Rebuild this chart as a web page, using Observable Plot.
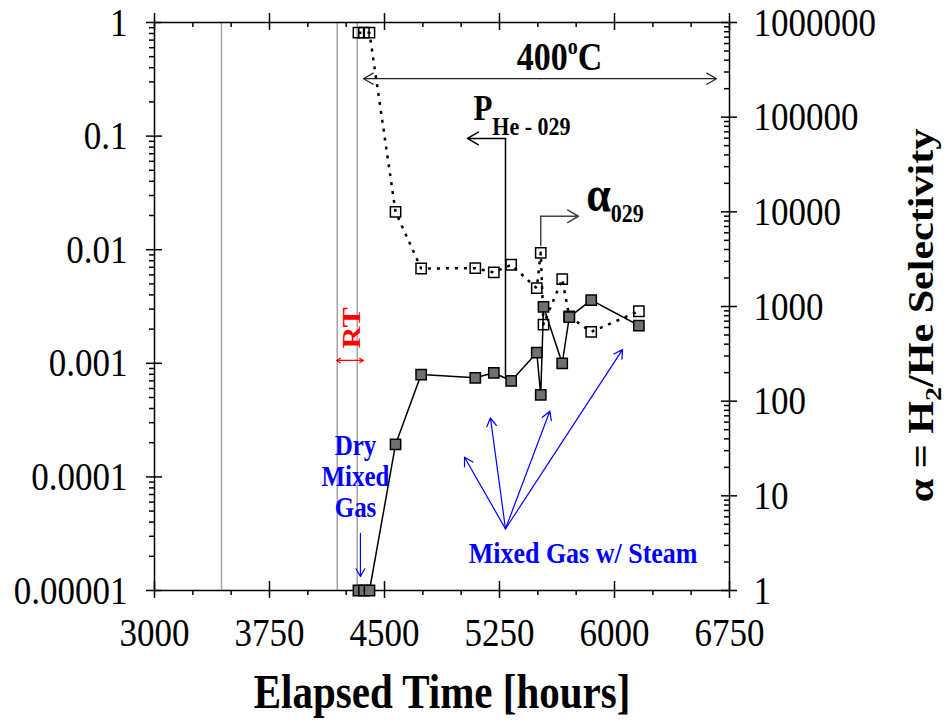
<!DOCTYPE html>
<html>
<head>
<meta charset="utf-8">
<script src="https://cdn.jsdelivr.net/npm/d3@7"></script>
<script src="https://cdn.jsdelivr.net/npm/@observablehq/plot@0.6"></script>
<style>
  html, body { margin: 0; padding: 0; background: #fff; }
  #chart { width: 948px; height: 723px; overflow: hidden; }
</style>
</head>
<body>
<div id="chart"></div>
<script>
// ---------- data ----------
const elapsedHours = [4330, 4366, 4402, 4572, 4739, 5092, 5213, 5326, 5493, 5519, 5537, 5659, 5705, 5848, 6159];
const pHe029 = [1e-5, 1e-5, 1e-5, 1.93e-4, 7.96e-4, 7.45e-4, 8.25e-4, 7.0e-4, 1.24e-3, 5.28e-4, 3.14e-3, 1.0e-3, 2.55e-3, 3.6e-3, 2.15e-3];
const alpha029 = [7.8e5, 7.8e5, 7.8e5, 1.0e4, 2520, 2540, 2290, 2760, 1560, 3690, 645, 1950, 784, 540, 891];

const transitionHours = [3437, 4192, 4322];

const xTicks = [3000, 3750, 4500, 5250, 6000, 6750];
const xTickLabels = ["3000", "3750", "4500", "5250", "6000", "6750"];
const xMinorTicks = [3250, 3500, 4000, 4250, 4750, 5000, 5500, 5750, 6250, 6500];
const leftTicks = [1e-5, 1e-4, 1e-3, 1e-2, 1e-1, 1];
const leftTickLabels = ["0.00001", "0.0001", "0.001", "0.01", "0.1", "1"];
const rightTicks = [1, 10, 100, 1000, 10000, 100000, 1000000];
const rightTickLabels = ["1", "10", "100", "1000", "10000", "100000", "1000000"];

// annotation anchors (data units)
const tempSpanHours = [4363, 6665];
const tempSpanLevel = [0.32];
const tempLabel = [{x: 5641, y: 0.378, text: "400°C"}];
const pBracket = [{x: 5289, y: 7.35e-4}, {x: 5289, y: 0.0953}];
const pArrowEnd = [{x: 5041, y: 0.0953}];
const pLabel = [{x: 5080, y: 0.1372, text: "PHe - 029"}];
const aBracket = [{x: 5519, y: 0.0109}, {x: 5519, y: 0.0197}];
const aArrowEnd = [{x: 5765, y: 0.0197}];
const aLabel = [{x: 5815, y: 0.02213, text: "α029"}];
const rtSpanHours = [4187, 4363];
const rtLevel = [1.06e-3];
const rtLabel = [{x: 4285, y: 2.05e-3, text: "RT"}];
const dryLabel = [{x: 4311, y: 1.01e-4, text: "Dry\nMixed\nGas"}];
const dryArrow = [{x1: 4343, y1: 3.18e-5, x2: 4343, y2: 1.33e-5}];
const steamLabel = [{x: 5795, y: 1.73e-5, text: "Mixed Gas w/ Steam"}];
const steamOrigin = {x: 5289, y: 3.49e-5};
const steamTargetsX = [5022, 5191, 5578, 6052];
const steamTargetsY = [1.49e-4, 3.31e-4, 3.79e-4, 1.32e-3];

// ---------- layout ----------
const W = 948, H = 723, ML = 154, MR = 219, MT = 22, MB = 133;
const PW = W - ML - MR, PH = H - MT - MB;
const serif = "'Liberation Serif', 'Times New Roman', serif";
const K = 1.17; // vertical stretch of glyphs in the reference

// alpha (right axis, 1..1e6) -> left log axis (1e-5..1)
const alphaToY = (a) => 1e-5 * Math.pow(a, 5 / 6);

const pts = elapsedHours.map((t, i) => ({t, p: pHe029[i], a: alpha029[i]}));

const leftMinor = [];
for (let e = -5; e < 0; e++) for (let m = 2; m <= 9; m++) leftMinor.push(m * Math.pow(10, e));
const rightMinor = [];
for (let e = 0; e < 6; e++) for (let m = 2; m <= 9; m++) rightMinor.push(alphaToY(m * Math.pow(10, e)));
const rightMajorPos = rightTicks.map((d) => alphaToY(d));

const tk = {stroke: "black", strokeWidth: 1.5};
const tempMid = (tempSpanHours[0] + tempSpanHours[1]) / 2;
const rtMid = (rtSpanHours[0] + rtSpanHours[1]) / 2;
const steamArrows = steamTargetsX.map((x, i) => ({x1: steamOrigin.x, y1: steamOrigin.y, x2: x, y2: steamTargetsY[i]}));

const chart = Plot.plot({
  width: W,
  height: H,
  marginLeft: ML,
  marginRight: MR,
  marginTop: MT,
  marginBottom: MB,
  style: {fontFamily: serif, background: "white", overflow: "visible", color: "black"},
  x: {domain: [3000, 6750], axis: null},
  y: {type: "log", domain: [1e-5, 1], axis: null},
  marks: [
    Plot.ruleX(transitionHours, {x: (d) => d, stroke: "#a3a3a3", strokeWidth: 1.5}),
    Plot.frame({stroke: "black", strokeWidth: 1.5}),

    // ticks: bottom (minor outward), top (minor inward), left (minor outward), right (minor inward)
    Plot.tickX(xTicks, {x: (d) => d, insetTop: PH - 9, insetBottom: -8, ...tk}),
    Plot.tickX(xMinorTicks, {x: (d) => d, insetTop: PH, insetBottom: -5, ...tk}),
    Plot.tickX(xTicks, {x: (d) => d, insetTop: -9, insetBottom: PH - 8, ...tk}),
    Plot.tickX(xMinorTicks, {x: (d) => d, insetTop: 0, insetBottom: PH - 5, ...tk}),
    Plot.tickY(leftTicks, {y: (d) => d, insetLeft: -8, insetRight: PW - 8, ...tk}),
    Plot.tickY(leftMinor, {y: (d) => d, insetLeft: -5, insetRight: PW, ...tk}),
    Plot.tickY(rightMajorPos, {y: (d) => d, insetLeft: PW - 8, insetRight: -8, ...tk}),
    Plot.tickY(rightMinor, {y: (d) => d, insetLeft: PW - 5, insetRight: 0, ...tk}),

    // tick labels
    Plot.text(leftTicks, {y: (d) => d, text: (d, i) => leftTickLabels[i], frameAnchor: "left", textAnchor: "end", dx: -27, fontSize: 35}),
    Plot.text(rightTicks, {y: (d) => alphaToY(d), text: (d, i) => rightTickLabels[i], frameAnchor: "right", textAnchor: "start", dx: 24, fontSize: 35}),
    Plot.text(xTicks, {x: (d) => d, text: (d, i) => xTickLabels[i], frameAnchor: "bottom", lineAnchor: "top", dy: 26, fontSize: 35}),

    // axis titles
    Plot.text(["Elapsed Time [hours]"], {frameAnchor: "bottom", textAnchor: "middle", lineAnchor: "bottom", dy: 117, fontSize: 41, fontWeight: "bold"}),
    Plot.text(["α = H2/He Selectivity"], {frameAnchor: "right", rotate: -90, textAnchor: "middle", lineAnchor: "bottom", dx: 203, dy: 9, fontSize: 36, fontWeight: "bold"}),

    // series
    Plot.line(pts, {x: "t", y: (d) => alphaToY(d.a), stroke: "black", strokeWidth: 2.5, strokeDasharray: "3,6", strokeLinecap: "butt"}),
    Plot.line(pts, {x: "t", y: "p", stroke: "black", strokeWidth: 1.5}),
    Plot.dot(pts, {x: "t", y: (d) => alphaToY(d.a), symbol: "square", r: 5.8, fill: "none", stroke: "black", strokeWidth: 1.5}),
    Plot.dot(pts, {x: "t", y: "p", symbol: "square", r: 5.8, fill: "#707070", stroke: "black", strokeWidth: 1.5}),

    // 400°C span
    Plot.arrow([0], {x1: tempMid, y1: tempSpanLevel[0], x2: tempSpanHours[0], y2: tempSpanLevel[0], stroke: "#222", strokeWidth: 1.2, headLength: 14}),
    Plot.arrow([0], {x1: tempMid, y1: tempSpanLevel[0], x2: tempSpanHours[1], y2: tempSpanLevel[0], stroke: "#222", strokeWidth: 1.2, headLength: 14}),
    Plot.text(tempLabel, {x: "x", y: "y", text: "text", lineAnchor: "bottom", textAnchor: "middle", fontSize: 34, fontWeight: "bold"}),

    // P_He-029 bracket
    Plot.line(pBracket, {x: "x", y: "y", stroke: "black", strokeWidth: 1.5}),
    Plot.arrow(pArrowEnd, {x1: pBracket[1].x, y1: pBracket[1].y, x2: "x", y2: "y", stroke: "black", strokeWidth: 1.5, headLength: 14}),
    Plot.text(pLabel, {x: "x", y: "y", text: "text", lineAnchor: "bottom", textAnchor: "start", fontSize: 31, fontWeight: "bold"}),

    // alpha029 bracket
    Plot.line(aBracket, {x: "x", y: "y", stroke: "#444", strokeWidth: 1.5}),
    Plot.arrow(aArrowEnd, {x1: aBracket[1].x, y1: aBracket[1].y, x2: "x", y2: "y", stroke: "#444", strokeWidth: 1.5, headLength: 14}),
    Plot.text(aLabel, {x: "x", y: "y", text: "text", lineAnchor: "bottom", textAnchor: "start", fontSize: 44, fontWeight: "bold"}),

    // RT
    Plot.arrow([0], {x1: rtMid, y1: rtLevel[0], x2: rtSpanHours[0], y2: rtLevel[0], stroke: "red", strokeWidth: 1.2, headLength: 7}),
    Plot.arrow([0], {x1: rtMid, y1: rtLevel[0], x2: rtSpanHours[1], y2: rtLevel[0], stroke: "red", strokeWidth: 1.2, headLength: 7}),
    Plot.text(rtLabel, {x: "x", y: "y", text: "text", rotate: -90, textAnchor: "middle", fill: "red", fontSize: 26, fontWeight: "bold"}),

    // Dry mixed gas
    Plot.text(dryLabel, {x: "x", y: "y", text: "text", textAnchor: "middle", fill: "blue", fontSize: 25, fontWeight: "bold", lineHeight: 1.06}),
    Plot.arrow(dryArrow, {x1: "x1", y1: "y1", x2: "x2", y2: "y2", stroke: "blue", strokeWidth: 1.2, headLength: 11}),

    // Mixed gas with steam
    Plot.arrow(steamArrows, {x1: "x1", y1: "y1", x2: "x2", y2: "y2", stroke: "blue", strokeWidth: 1.2, headLength: 12}),
    Plot.text(steamLabel, {x: "x", y: "y", text: "text", textAnchor: "middle", lineAnchor: "bottom", fill: "blue", fontSize: 26, fontWeight: "bold"})
  ]
});

// rich text: sub/superscripts as tspans
const SVGNS = "http://www.w3.org/2000/svg";
function rich(svg, content, parts) {
  svg.querySelectorAll("text").forEach((t) => {
    if (t.textContent !== content) return;
    t.textContent = "";
    for (const p of parts) {
      const s = document.createElementNS(SVGNS, "tspan");
      s.textContent = p.t;
      if (p.size) s.setAttribute("font-size", p.size);
      if (p.dy) s.setAttribute("dy", p.dy);
      t.appendChild(s);
    }
  });
}
rich(chart, "400°C", [{t: "400"}, {t: "o", size: "20px", dy: -14}, {t: "C", dy: 14}]);
rich(chart, "PHe - 029", [{t: "P"}, {t: "He - 029", size: "22px", dy: 12}]);
rich(chart, "α029", [{t: "α"}, {t: "029", size: "22px", dy: 10}]);
rich(chart, "α = H2/He Selectivity", [{t: "α = H"}, {t: "2", size: "24px", dy: 8}, {t: "/He Selectivity", dy: -8}]);

// vertical glyph stretch to match the reference's proportions
chart.querySelectorAll("text").forEach((t) => {
  const tr = t.getAttribute("transform") || "";
  const rotated = /rotate\(\s*-?90/.test(tr);
  t.setAttribute("transform", tr + (rotated ? ` scale(${K},1)` : ` scale(1,${K})`));
});

document.getElementById("chart").appendChild(chart);
</script>
</body>
</html>
